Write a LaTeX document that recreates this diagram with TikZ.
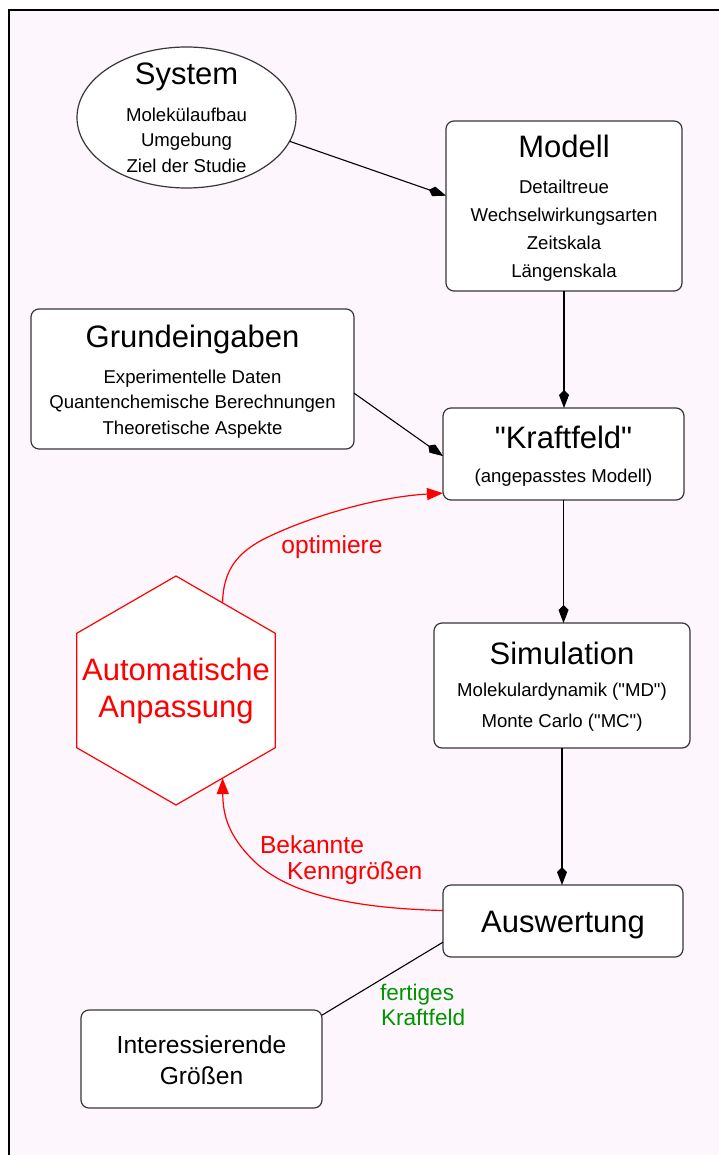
\documentclass[tikz,border=0pt]{standalone}
\usepackage{fontspec}
\setmainfont{Liberation Sans}[Ligatures=TeXOff]
\usetikzlibrary{arrows.meta,shapes.geometric}

\definecolor{bgpink}{RGB}{253,246,253}
\definecolor{boxline}{RGB}{55,55,55}
\definecolor{fitgreen}{RGB}{0,150,0}

\begin{document}
\begin{tikzpicture}[x=1pt,y=-1pt,
  box/.style={draw=boxline, line width=1.2pt, fill=white, rounded corners=8pt,
    inner sep=0pt, outer sep=0pt},
  txt/.style={inner sep=0pt, outer sep=0pt, anchor=base},
  heading/.style={txt, font=\fontsize{31}{37}\selectfont},
  subline/.style={txt, font=\fontsize{18.6}{22}\selectfont},
  midline/.style={txt, font=\fontsize{24.6}{29}\selectfont},
  redlabel/.style={txt, anchor=base west, text=red, font=\fontsize{24.6}{29}\selectfont},
  greenlabel/.style={txt, anchor=base west, text=fitgreen, font=\fontsize{22.6}{27}\selectfont},
  flowarrow/.style={draw=black, line width=1.1pt, -{Kite[length=18pt,width=10pt,inset=5pt]}},
  plainline/.style={draw=black, line width=1.1pt},
  feedback/.style={draw=red, line width=1.2pt, -{Triangle[length=16pt,width=12pt]}},
]
\useasboundingbox (0,0) rectangle (719,1155);

% page background and frame
\fill[bgpink] (9,10) rectangle (719,1155);
\draw[black, line width=1.2pt] (9,1155) -- (9,10) -- (719,10);

% --- shapes ---
\node[draw=boxline, line width=1.2pt, fill=white, ellipse, inner sep=0pt, outer sep=0pt,
  minimum width=219pt, minimum height=141pt] (sys) at (186.5,117.5) {};
\node[box, minimum width=236pt, minimum height=170pt] (mod) at (564,206) {};
\node[box, minimum width=323pt, minimum height=140pt] (grund) at (192.5,379) {};
\node[box, minimum width=241pt, minimum height=92pt] (kraft) at (563.5,454) {};
\node[box, minimum width=256pt, minimum height=125pt] (sim) at (562,685.5) {};
\node[box, minimum width=240pt, minimum height=72pt] (ausw) at (563,921) {};
\node[box, minimum width=241pt, minimum height=98pt] (inter) at (201.5,1059) {};
\node[regular polygon, regular polygon sides=6, shape border rotate=30,
  draw=red, line width=1.2pt, fill=white,
  minimum size=229pt, inner sep=0pt, outer sep=0pt] (hex) at (176,690.5) {};

% --- texts ---
\node[heading] (sysT) at (186.5,85) {System};
\node[subline] (sys1) at (186.5,122) {Molekülaufbau};
\node[subline] (sys2) at (186.5,147) {Umgebung};
\node[subline] (sys3) at (186.5,173) {Ziel der Studie};

\node[heading] (modT) at (564,158) {Modell};
\node[subline] (mod1) at (564,194) {Detailtreue};
\node[subline] (mod2) at (564,222) {Wechselwirkungsarten};
\node[subline] (mod3) at (564,250) {Zeitskala};
\node[subline] (mod4) at (564,278) {Längenskala};

\node[heading] (grundT) at (192.5,347) {Grundeingaben};
\node[subline] (grund1) at (192.5,383) {Experimentelle Daten};
\node[subline] (grund2) at (192.5,408) {Quantenchemische Berechnungen};
\node[subline] (grund3) at (192.5,434) {Theoretische Aspekte};

\node[heading] (kraftT) at (563.5,448) {"Kraftfeld"};
\node[subline] (kraft1) at (563.5,482) {(angepasstes Modell)};

\node[heading] (simT) at (562,664) {Simulation};
\node[subline] (sim1) at (562,696) {Molekulardynamik ("MD")};
\node[subline] (sim2) at (562,727) {Monte Carlo ("MC")};

\node[heading] (auswT) at (563,932) {Auswertung};

\node[midline] (inter1) at (201.5,1053) {Interessierende};
\node[midline] (inter2) at (201.5,1084) {Größen};

\node[heading, text=red] (hex1) at (176,680) {Automatische};
\node[heading, text=red] (hex2) at (176,717) {Anpassung};

% --- connectors ---
\draw[flowarrow] (sys.-13) -- (mod.175);
\draw[flowarrow] (mod.south) -- (mod.south |- kraft.north);
\draw[flowarrow] (grund.-5) -- (kraft.181);
\draw[flowarrow] (kraft.south) -- (kraft.south |- sim.north);
\draw[flowarrow] (sim.south) -- (sim.south |- ausw.north);
\draw[plainline] (ausw.190) -- (inter.20);

\draw[feedback] (hex.62) .. controls (223,570) and (238,553) .. (262,540)
  .. controls (305,518) and (375,497) .. (kraft.198);
\draw[feedback] (ausw.175) .. controls (340,908) and (285,890) .. (255,862)
  .. controls (228,836) and (223,815) .. (hex.-62);

% --- connector labels ---
\node[txt, text=red, font=\fontsize{24.6}{29}\selectfont] (optL) at (332,553) {optimiere};
\node[redlabel] (bekL1) at (260,853) {Bekannte};
\node[redlabel] (bekL2) at (287,879) {Kenngrößen};
\node[greenlabel] (fertL1) at (380,1000) {fertiges};
\node[greenlabel] (fertL2) at (381,1025) {Kraftfeld};
\end{tikzpicture}
\end{document}
